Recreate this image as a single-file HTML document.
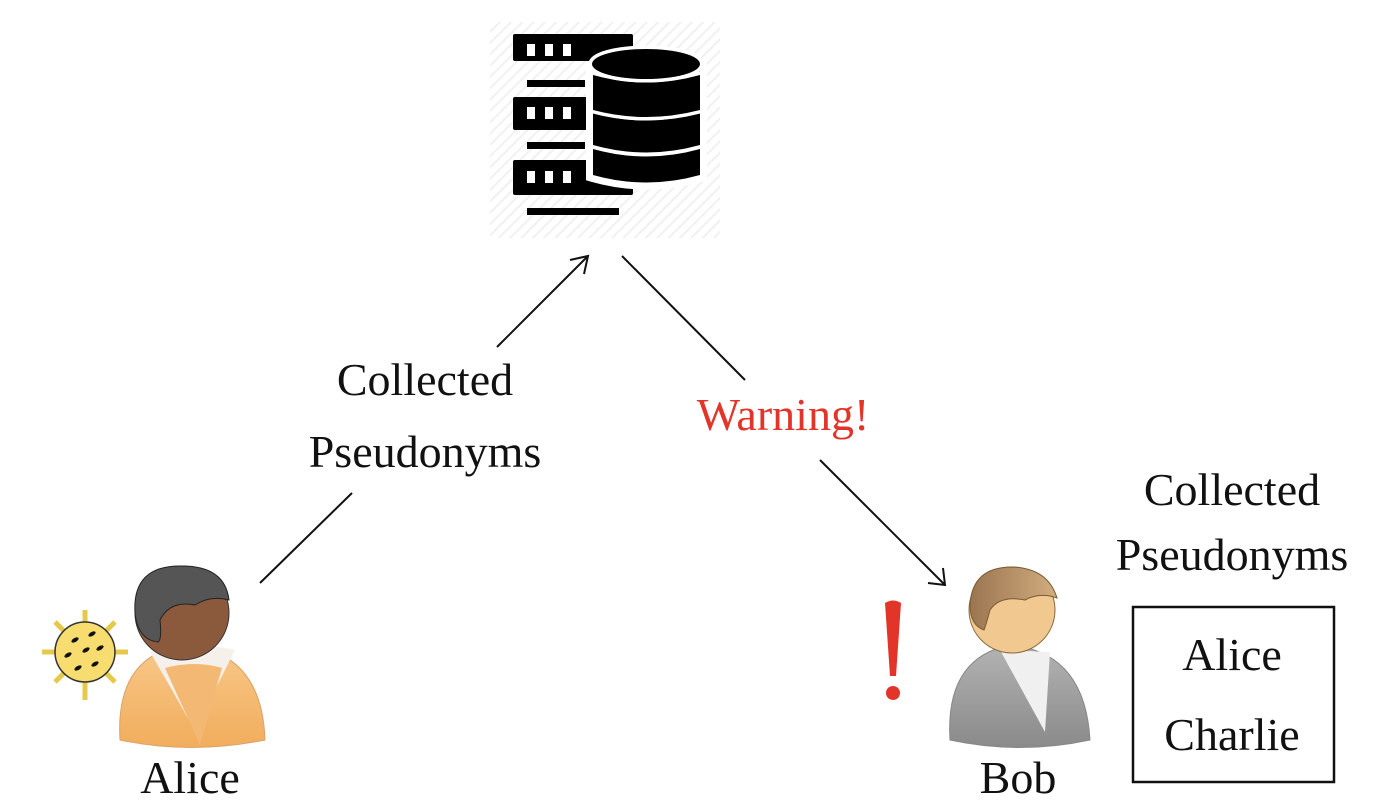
<!DOCTYPE html>
<html><head><meta charset="utf-8"><style>
html,body{margin:0;padding:0;background:#fff;}
svg{display:block;}
text{font-family:"Liberation Serif",serif;font-size:46px;fill:#111;}
</style></head><body>
<svg width="1376" height="812" viewBox="0 0 1376 812" xmlns="http://www.w3.org/2000/svg">
<defs>
<pattern id="st" width="8" height="8" patternUnits="userSpaceOnUse" patternTransform="rotate(45)">
<rect width="8" height="8" fill="#fff"/><rect width="2" height="8" fill="#f1f1f1"/>
</pattern>
<linearGradient id="ab" x1="0" y1="0" x2="0" y2="1"><stop offset="0" stop-color="#f8c88a"/><stop offset="1" stop-color="#f1ad5c"/></linearGradient>
<linearGradient id="bb" x1="0" y1="0" x2="0" y2="1"><stop offset="0" stop-color="#b3b3b3"/><stop offset="1" stop-color="#8a8a8a"/></linearGradient>
<linearGradient id="bh" x1="0" y1="0" x2="1" y2="0"><stop offset="0" stop-color="#9a7550"/><stop offset="1" stop-color="#d2ad80"/></linearGradient>
</defs>
<rect x="490" y="22" width="230" height="216" fill="url(#st)"/>
<g fill="#000">
<rect x="513" y="34" width="120" height="27" rx="2"/>
<rect x="513" y="97" width="100" height="33" rx="2"/>
<rect x="513" y="160" width="120" height="35" rx="2"/>
<rect x="527" y="80" width="58" height="7"/>
<rect x="527" y="142" width="58" height="7"/>
<rect x="527" y="208" width="92" height="7"/>
</g>
<g fill="#fff">
<rect x="527" y="44" width="8" height="12"/><rect x="545" y="44" width="8" height="12"/><rect x="563" y="44" width="8" height="12"/>
<rect x="527" y="107" width="8" height="12"/><rect x="545" y="107" width="8" height="12"/><rect x="563" y="107" width="8" height="12"/>
<rect x="527" y="171" width="8" height="12"/><rect x="545" y="171" width="8" height="12"/><rect x="563" y="171" width="8" height="12"/>
</g>
<path d="M593 68 L700 68 L700 175 Q646 190 593 175 Z" fill="#000" stroke="#fff" stroke-width="14" style="paint-order:stroke"/>
<g fill="#000" stroke="#fff" stroke-width="7" style="paint-order:stroke">
<path d="M593 149 Q646 164 700 149 L700 175 Q646 190 593 175 Z"/>
<path d="M593 113 Q646 128 700 113 L700 145 Q646 160 593 145 Z"/>
<path d="M593 75 Q646 90 700 75 L700 110 Q646 124 593 110 Z"/>
<ellipse cx="646" cy="64" rx="54" ry="15"/>
</g>
<g stroke="#111" stroke-width="2" fill="none">
<line x1="260" y1="583" x2="352" y2="493"/>
<line x1="497" y1="347" x2="588" y2="256"/>
<polyline points="570,260 588,256 584,274"/>
<line x1="622" y1="256" x2="745" y2="380"/>
<line x1="820" y1="460" x2="945" y2="585"/>
<polyline points="928,583 945,585 943,568"/>
</g>
<text x="425" y="395" text-anchor="middle">Collected</text>
<text x="425" y="467" text-anchor="middle">Pseudonyms</text>
<text x="783" y="430" text-anchor="middle" style="fill:#e3342a">Warning!</text>
<text x="1232" y="505" text-anchor="middle">Collected</text>
<text x="1232" y="570" text-anchor="middle">Pseudonyms</text>
<rect x="1133" y="607" width="201" height="175" fill="none" stroke="#111" stroke-width="2.5"/>
<text x="1232" y="670" text-anchor="middle">Alice</text>
<text x="1232" y="750" text-anchor="middle">Charlie</text>
<text x="190" y="793" text-anchor="middle">Alice</text>
<text x="1018" y="793" text-anchor="middle">Bob</text>
<path d="M120 740 Q115 655 185 645 Q262 652 265 740 Q190 755 120 740 Z" fill="url(#ab)" stroke="#d9a36a"/>
<path d="M150 652 L172 690 L200 740 L215 690 L235 650 Q190 640 150 652Z" fill="#f6f0ea"/>
<path d="M165 668 L200 745 L222 668 Q195 660 165 668 Z" fill="#f3b873"/>
<circle cx="182" cy="613" r="47" fill="#8b5a3c" stroke="#333"/>
<path d="M135 613 Q132 565 182 566 Q225 566 229 600 Q210 595 195 605 Q170 600 160 620 Q162 640 158 642 Q138 640 135 613Z" fill="#555" stroke="#222"/>
<g stroke="#333" stroke-width="1.5" fill="#f7dc6f">
<line x1="85" y1="610" x2="85" y2="700" stroke="#e6c94a" stroke-width="5"/>
<line x1="42" y1="652" x2="128" y2="652" stroke="#e6c94a" stroke-width="5"/>
<line x1="55" y1="622" x2="115" y2="682" stroke="#e6c94a" stroke-width="5"/>
<line x1="115" y1="622" x2="55" y2="682" stroke="#e6c94a" stroke-width="5"/>
<circle cx="85" cy="652" r="30"/>
</g>
<g fill="#111">
<ellipse cx="75" cy="640" rx="4" ry="2" transform="rotate(-30 75 640)"/>
<ellipse cx="92" cy="634" rx="4" ry="2" transform="rotate(-30 92 634)"/>
<ellipse cx="68" cy="655" rx="4" ry="2" transform="rotate(-30 68 655)"/>
<ellipse cx="86" cy="650" rx="4" ry="2" transform="rotate(-30 86 650)"/>
<ellipse cx="100" cy="648" rx="4" ry="2" transform="rotate(-30 100 648)"/>
<ellipse cx="78" cy="668" rx="4" ry="2" transform="rotate(-30 78 668)"/>
<ellipse cx="95" cy="664" rx="4" ry="2" transform="rotate(-30 95 664)"/>
</g>
<path d="M950 740 Q945 658 1010 645 Q1085 652 1090 740 Q1020 755 950 740 Z" fill="url(#bb)" stroke="#888"/>
<path d="M1000 650 L1045 732 L1050 652 Z" fill="#f0f0f0"/>
<circle cx="1012" cy="610" r="43" fill="#f0c890" stroke="#8a6a40"/>
<path d="M970 605 Q972 567 1012 567 Q1048 568 1057 598 Q1040 592 1025 600 Q1000 595 990 610 Q986 625 984 630 Q970 625 970 605Z" fill="url(#bh)" stroke="#7a5a30"/>
<path d="M885 603 Q893 598 901 603 L896 676 L890 676 Z" fill="#e3342a"/>
<circle cx="893" cy="693" r="7" fill="#e3342a"/>
</svg>
</body></html>
